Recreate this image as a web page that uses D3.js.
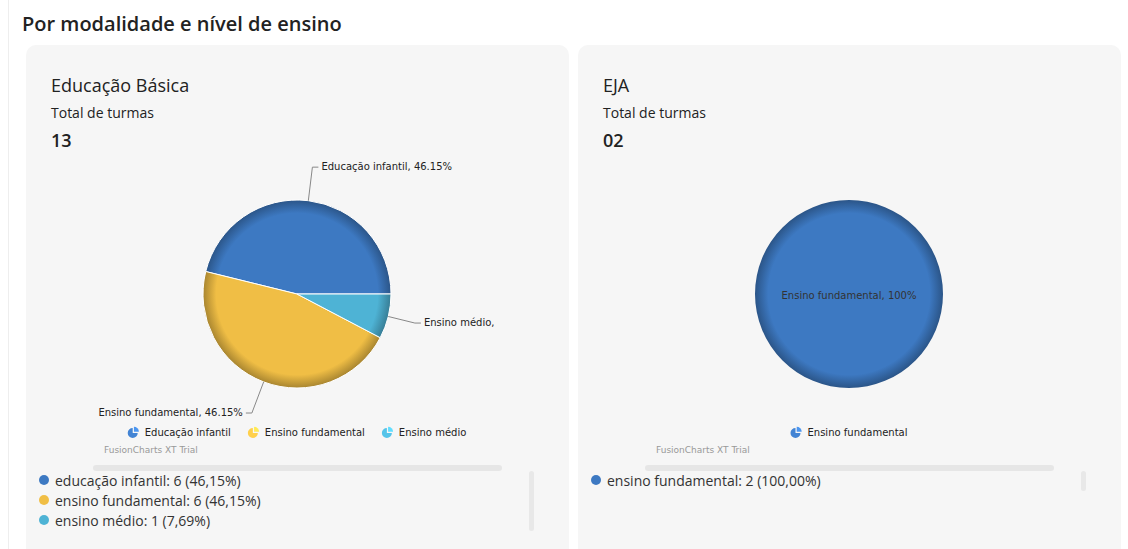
<!DOCTYPE html>
<html>
<head>
<meta charset="utf-8">
<script src="https://cdn.jsdelivr.net/npm/d3@7"></script>
<style>
body { margin: 0; background: #fff; font-family: "Open Sans", sans-serif; }
svg { display: block; }
</style>
</head>
<body>
<svg id="chart" width="1128" height="549"></svg>
<script>
// data
var basicaCategories = ["Educação infantil", "Ensino fundamental", "Ensino médio"];
var basicaValues = [6, 6, 1];
var ejaCategories = ["Ensino fundamental"];
var ejaValues = [2];
var pageTitle = "Por modalidade e nível de ensino";
var cardTitles = ["Educação Básica", "EJA"];

var palette = {
    "Educação infantil": "#3d79c2",
    "Ensino fundamental": "#f0be45",
    "Ensino médio": "#4eb3d5"
};
var ejaPalette = { "Ensino fundamental": "#3d79c2" };

var svg = d3.select("#chart");
var defs = svg.append("defs");

var ptBR = d3.formatLocale({ decimal: ",", thousands: ".", grouping: [3], currency: ["R$", ""] });
var fmtList = ptBR.format(".2f");
var fmtLabel = d3.format(".2~f");
var fmtTotal = d3.format("02d");

// faint container line + page title
svg.append("line")
    .attr("x1", 8.5).attr("x2", 8.5).attr("y1", 0).attr("y2", 549)
    .attr("stroke", "#eeeeee");

svg.append("text")
    .attr("x", 22).attr("y", 31)
    .attr("font-size", 20).attr("font-weight", 600)
    .attr("fill", "#222")
    .text(pageTitle);

var r = 94;
var labelFont = "DejaVu Sans, Verdana, sans-serif";

function drawCard(x0, title, cats, vals, colors, id) {
    var g = svg.append("g").attr("transform", "translate(" + x0 + ",0)");
    var total = d3.sum(vals);

    g.append("rect")
        .attr("x", 0).attr("y", 45)
        .attr("width", 543).attr("height", 530)
        .attr("rx", 10)
        .attr("fill", "#f6f6f6");

    g.append("text").attr("x", 25).attr("y", 92)
        .attr("font-size", 18).attr("fill", "#222").text(title);
    g.append("text").attr("x", 25).attr("y", 118)
        .attr("font-size", 14).attr("fill", "#222").text("Total de turmas");
    g.append("text").attr("x", 25).attr("y", 147)
        .attr("font-size", 18).attr("font-weight", 600).attr("fill", "#222")
        .text(fmtTotal(total));

    var cx = 271, cy = 294;
    var chart = g.append("g").attr("transform", "translate(" + cx + "," + cy + ")");

    // counterclockwise from 3 o'clock, like the original
    var pie = d3.pie().sort(null)
        .startAngle(Math.PI / 2)
        .endAngle(Math.PI / 2 - 2 * Math.PI);
    var arcs = pie(vals);
    var arc = d3.arc().innerRadius(0).outerRadius(r);

    cats.forEach(function(c, i) {
        var base = d3.color(colors[c]);
        var grad = defs.append("radialGradient")
            .attr("id", id + "-g" + i)
            .attr("gradientUnits", "userSpaceOnUse")
            .attr("cx", 0).attr("cy", 0).attr("r", r);
        grad.append("stop").attr("offset", "0%").attr("stop-color", base.formatHex());
        grad.append("stop").attr("offset", "86%").attr("stop-color", base.formatHex());
        grad.append("stop").attr("offset", "100%").attr("stop-color", base.darker(1).formatHex());
    });

    chart.selectAll("path.slice")
        .data(arcs)
        .join("path")
        .attr("class", "slice")
        .attr("d", arc)
        .attr("fill", function(d, i) { return "url(#" + id + "-g" + i + ")"; })
        .attr("stroke", arcs.length > 1 ? "#fff" : "none")
        .attr("stroke-width", 1);

    var limit = 205;
    arcs.forEach(function(d, i) {
        var pct = d.value / total * 100;
        var label = cats[i] + ", " + fmtLabel(pct) + "%";
        if (arcs.length === 1) {
            chart.append("text")
                .attr("x", 0).attr("y", 2)
                .attr("text-anchor", "middle")
                .attr("dominant-baseline", "middle")
                .attr("font-family", labelFont).attr("font-size", 10)
                .attr("fill", "#333")
                .text(label);
            return;
        }
        var a = (d.startAngle + d.endAngle) / 2;
        var sx = Math.sin(a), sy = -Math.cos(a);
        var dir = sx >= 0 ? 1 : -1;
        // labels near the sides sit a little closer to the pie
        var k = 1.27 + 0.09 * Math.abs(sy);
        var p0 = [sx * r, sy * r];
        var p1 = [sx * r * k, sy * r * k];
        var p2 = [p1[0] + dir * 6, p1[1]];
        chart.append("polyline")
            .attr("points", [p0, p1, p2].map(function(p) { return p.join(","); }).join(" "))
            .attr("fill", "none")
            .attr("stroke", "#888")
            .attr("stroke-width", 1);
        var t = chart.append("text")
            .attr("x", p2[0] + dir * 3).attr("y", p2[1])
            .attr("text-anchor", dir > 0 ? "start" : "end")
            .attr("dominant-baseline", "middle")
            .attr("font-family", labelFont).attr("font-size", 10)
            .attr("fill", "#222")
            .text(label);
        // cut words that run past the chart area
        var words = label.split(" ");
        while (words.length > 1) {
            var bb = t.node().getBBox();
            if (bb.x + bb.width <= limit && bb.x >= -limit) break;
            words.pop();
            t.text(words.join(" "));
        }
    });

    // legend
    var leg = g.append("g").attr("transform", "translate(0,433)");
    var items = leg.selectAll("g.item")
        .data(cats)
        .join("g")
        .attr("class", "item");
    var iconArc = d3.arc().innerRadius(0).outerRadius(5);
    items.append("path")
        .attr("d", iconArc({ startAngle: Math.PI / 2, endAngle: 2 * Math.PI }))
        .attr("transform", "translate(5,0)")
        .attr("fill", function(c) { return d3.color(colors[c]).brighter(0.25); });
    items.append("path")
        .attr("d", iconArc({ startAngle: 0, endAngle: Math.PI / 2 }))
        .attr("transform", "translate(6.2,-1.2)")
        .attr("fill", function(c) { return d3.color(colors[c]).brighter(0.6); });
    items.append("text")
        .attr("x", 17).attr("y", 0)
        .attr("dominant-baseline", "middle")
        .attr("font-family", labelFont).attr("font-size", 10)
        .attr("fill", "#222")
        .text(function(c) { return c; });
    var widths = [];
    items.each(function() { widths.push(this.getBBox().width); });
    var totalW = d3.sum(widths) + 17 * (widths.length - 1);
    var xcur = cx - totalW / 2;
    items.attr("transform", function(c, i) {
        var tx = xcur;
        xcur += widths[i] + 17;
        return "translate(" + tx + ",0)";
    });

    g.append("text")
        .attr("x", cx - 193).attr("y", 450)
        .attr("dominant-baseline", "middle")
        .attr("font-family", labelFont).attr("font-size", 9)
        .attr("fill", "#999")
        .text("FusionCharts XT Trial");

    // horizontal scroll track
    g.append("rect")
        .attr("x", cx - 204).attr("y", 465)
        .attr("width", 409).attr("height", 6)
        .attr("rx", 3)
        .attr("fill", "#e6e6e6");

    // list of values
    var list = g.selectAll("g.row")
        .data(cats)
        .join("g")
        .attr("class", "row")
        .attr("transform", function(c, i) { return "translate(0," + (480 + i * 20) + ")"; });
    list.append("circle")
        .attr("cx", 18).attr("cy", 0).attr("r", 5)
        .attr("fill", function(c) { return colors[c]; });
    list.append("text")
        .attr("x", 29).attr("y", 2)
        .attr("dominant-baseline", "middle")
        .attr("font-size", 14).attr("fill", "#333")
        .text(function(c, i) {
            return c.toLowerCase() + ": " + vals[i] + " (" + fmtList(vals[i] / total * 100) + "%)";
        });

    // vertical scroll track
    g.append("rect")
        .attr("x", 503).attr("y", 471)
        .attr("width", 5).attr("height", cats.length * 20)
        .attr("rx", 2.5)
        .attr("fill", "#e8e8e8");
}

drawCard(26, cardTitles[0], basicaCategories, basicaValues, palette, "basica");
drawCard(578, cardTitles[1], ejaCategories, ejaValues, ejaPalette, "eja");
</script>
</body>
</html>
